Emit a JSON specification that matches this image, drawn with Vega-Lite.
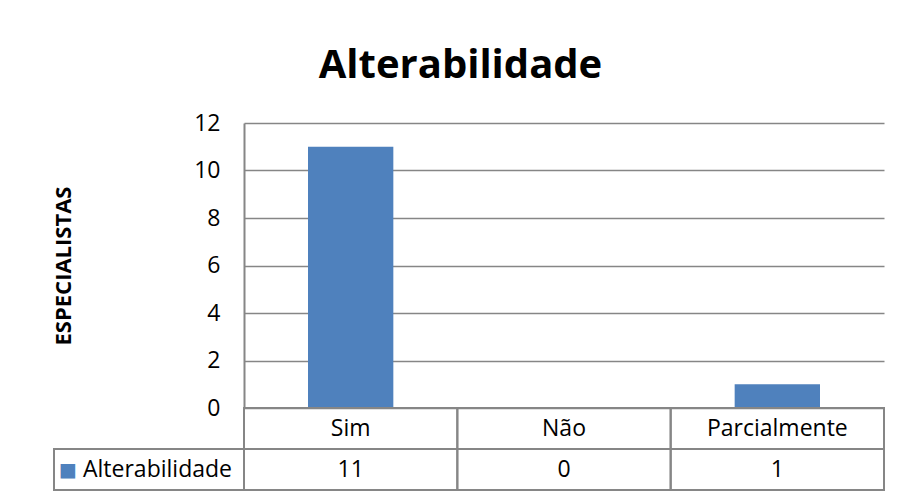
{
  "$schema": "https://vega.github.io/schema/vega-lite/v6.json",
  "autosize": "pad",
  "padding": {"left": 52, "top": 46, "right": 5, "bottom": 5},
  "background": "white",
  "title": {
    "text": "Alterabilidade",
    "anchor": "middle",
    "font": "Open Sans",
    "fontSize": 40,
    "fontWeight": "bold",
    "color": "#000000",
    "baseline": "alphabetic",
    "offset": -6,
    "dx": -8
  },
  "datasets": {
    "tabela": [
      {"categoria": "Sim", "especialistas": 11},
      {"categoria": "Não", "especialistas": 0},
      {"categoria": "Parcialmente", "especialistas": 1}
    ],
    "serie": [{"serie": "Alterabilidade"}]
  },
  "columns": 2,
  "spacing": 0,
  "bounds": "flush",
  "align": "each",
  "concat": [
    {
      "width": 190,
      "height": 285,
      "data": {"name": "serie"},
      "mark": {"type": "text", "text": ""},
      "encoding": {}
    },
    {
      "width": 640,
      "height": 285,
      "data": {"name": "tabela"},
      "mark": {"type": "bar", "color": "#4F81BD", "width": {"band": 0.4}},
      "encoding": {
        "x": {
          "field": "categoria",
          "type": "nominal",
          "sort": null,
          "scale": {"paddingInner": 0, "paddingOuter": 0},
          "axis": null
        },
        "y": {
          "field": "especialistas",
          "type": "quantitative",
          "scale": {"domain": [0, 12]},
          "axis": {
            "values": [0, 2, 4, 6, 8, 10, 12],
            "grid": true,
            "gridColor": "#868686",
            "gridWidth": 1.5,
            "domainColor": "#868686",
            "domainWidth": 2,
            "ticks": false,
            "labelPadding": 24,
            "labelFont": "Open Sans",
            "labelFontSize": 23,
            "labelColor": "#000000",
            "title": "ESPECIALISTAS",
            "titleFont": "Open Sans",
            "titleFontSize": 22,
            "titleFontWeight": "bold",
            "titleColor": "#000000",
            "titleAngle": -90,
            "titleAlign": "center",
            "titleBaseline": "alphabetic",
            "titleX": -174,
            "titleY": 142.5
          }
        }
      }
    },
    {
      "width": 190,
      "height": 82,
      "data": {"name": "serie"},
      "encoding": {
        "y": {
          "datum": "v",
          "type": "nominal",
          "scale": {"domain": ["h", "v"], "paddingInner": 0, "paddingOuter": 0},
          "axis": null
        }
      },
      "layer": [
        {"mark": {"type": "rect", "filled": false, "stroke": "#868686", "strokeWidth": 2}},
        {"mark": {"type": "text", "text": "■", "color": "#4F81BD", "font": "DejaVu Sans", "fontSize": 19, "dx": -81}},
        {
          "mark": {"type": "text", "align": "left", "font": "Open Sans", "fontSize": 23, "color": "#000000", "dx": -66},
          "encoding": {"text": {"field": "serie"}}
        }
      ]
    },
    {
      "width": 640,
      "height": 82,
      "data": {"name": "tabela"},
      "encoding": {
        "x": {
          "field": "categoria",
          "type": "nominal",
          "sort": null,
          "scale": {"paddingInner": 0, "paddingOuter": 0},
          "axis": null
        }
      },
      "layer": [
        {
          "mark": {"type": "rect", "filled": false, "stroke": "#868686", "strokeWidth": 2},
          "encoding": {"y": {"datum": "h", "type": "nominal", "scale": {"domain": ["h", "v"], "paddingInner": 0, "paddingOuter": 0}, "axis": null}}
        },
        {
          "mark": {"type": "rect", "filled": false, "stroke": "#868686", "strokeWidth": 2},
          "encoding": {"y": {"datum": "v", "type": "nominal"}}
        },
        {
          "mark": {"type": "text", "font": "Open Sans", "fontSize": 23, "color": "#000000"},
          "encoding": {"y": {"datum": "h", "type": "nominal"}, "text": {"field": "categoria"}}
        },
        {
          "mark": {"type": "text", "font": "Open Sans", "fontSize": 23, "color": "#000000"},
          "encoding": {"y": {"datum": "v", "type": "nominal"}, "text": {"field": "especialistas", "type": "quantitative"}}
        }
      ]
    }
  ],
  "config": {
    "view": {"stroke": null}
  }
}
